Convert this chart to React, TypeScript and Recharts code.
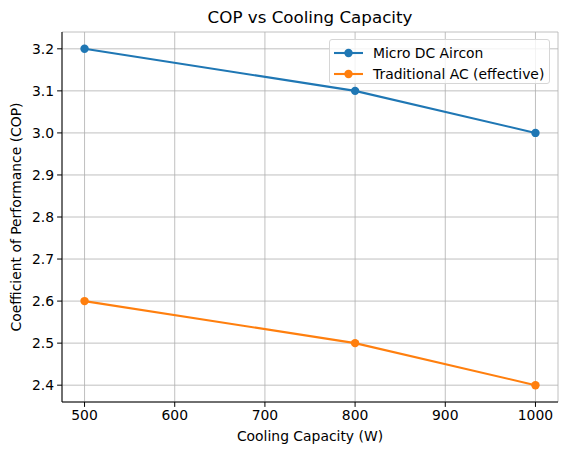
import React from 'react';
import {
  LineChart,
  Line,
  XAxis,
  YAxis,
  CartesianGrid,
  Legend,
} from 'recharts';

const capacities = [500, 800, 1000];
const microDc = [3.2, 3.1, 3.0];
const traditional = [2.6, 2.5, 2.4];
const xTicks = [500, 600, 700, 800, 900, 1000];
const yTicks = [2.4, 2.5, 2.6, 2.7, 2.8, 2.9, 3.0, 3.1, 3.2];

const seriesInfo = [
  { key: 'micro', name: 'Micro DC Aircon', color: '#1f77b4' },
  { key: 'trad', name: 'Traditional AC (effective)', color: '#ff7f0e' },
];

const data = capacities.map((c, i) => ({
  cap: c,
  micro: microDc[i],
  trad: traditional[i],
}));

const font = 'DejaVu Sans, sans-serif';

function LegendBox() {
  return (
    <div
      style={{
        position: 'absolute',
        left: 329,
        top: 39,
        width: 221,
        height: 45,
        boxSizing: 'border-box',
        border: '1px solid #d6d6d6',
        borderRadius: 3,
        background: 'rgba(255,255,255,0.8)',
        fontFamily: font,
        fontSize: 13.9,
        color: '#000',
      }}
    >
      {seriesInfo.map((s, i) => (
        <div
          key={s.key}
          style={{
            position: 'absolute',
            left: 0,
            top: 3 + i * 20.5,
            height: 20,
            display: 'flex',
            alignItems: 'center',
            whiteSpace: 'nowrap',
          }}
        >
          <svg width={40} height={20}>
            <line x1={4} y1={10} x2={33} y2={10} stroke={s.color} strokeWidth={2.1} />
            <circle cx={18.5} cy={10} r={4.2} fill={s.color} />
          </svg>
          <span style={{ marginLeft: 3 }}>{s.name}</span>
        </div>
      ))}
    </div>
  );
}

export default function App() {
  return (
    <div
      style={{
        position: 'absolute',
        left: 0,
        top: 0,
        width: 567,
        height: 455,
        background: '#fff',
        fontFamily: font,
      }}
    >
      <div
        style={{
          position: 'absolute',
          left: 62,
          width: 496,
          top: 7,
          textAlign: 'center',
          fontSize: 16.7,
          color: '#000',
        }}
      >
        COP vs Cooling Capacity
      </div>
      <div
        style={{
          position: 'absolute',
          left: 62,
          width: 496,
          top: 428,
          textAlign: 'center',
          fontSize: 13.9,
          color: '#000',
        }}
      >
        Cooling Capacity (W)
      </div>
      <div
        style={{
          position: 'absolute',
          left: 16,
          top: 217,
          transform: 'translate(-50%, -50%) rotate(-90deg)',
          whiteSpace: 'nowrap',
          fontSize: 13.9,
          color: '#000',
        }}
      >
        Coefficient of Performance (COP)
      </div>
      <LineChart
        width={567}
        height={455}
        data={data}
        margin={{ top: 32, right: 9, bottom: 0, left: 0 }}
      >
        <CartesianGrid stroke="#b0b0b0" strokeWidth={0.8} />
        <XAxis
          dataKey="cap"
          type="number"
          domain={[475, 1025]}
          ticks={xTicks}
          height={53}
          stroke="#000"
          tickSize={4.9}
          tickMargin={3}
          tick={{ fill: '#000', fontSize: 13.9, fontFamily: font }}
          allowDataOverflow
        />
        <XAxis
          xAxisId="top"
          dataKey="cap"
          type="number"
          orientation="top"
          domain={[475, 1025]}
          height={0}
          tick={false}
          tickLine={false}
          stroke="#000"
        />
        <YAxis
          type="number"
          domain={[2.36, 3.24]}
          ticks={yTicks}
          width={62}
          stroke="#000"
          tickSize={4.9}
          tickMargin={3}
          tickFormatter={(v: number) => v.toFixed(1)}
          tick={{ fill: '#000', fontSize: 13.9, fontFamily: font }}
          allowDataOverflow
        />
        <YAxis
          yAxisId="right"
          orientation="right"
          type="number"
          domain={[2.36, 3.24]}
          width={0}
          tick={false}
          tickLine={false}
          stroke="#000"
        />
        {seriesInfo.map((s) => (
          <Line
            key={s.key}
            dataKey={s.key}
            name={s.name}
            stroke={s.color}
            strokeWidth={2.1}
            dot={{ r: 4.2, fill: s.color, stroke: s.color, strokeWidth: 0 }}
            activeDot={false}
            isAnimationActive={false}
          />
        ))}
        <Legend content={() => null} />
      </LineChart>
      <LegendBox />
    </div>
  );
}
